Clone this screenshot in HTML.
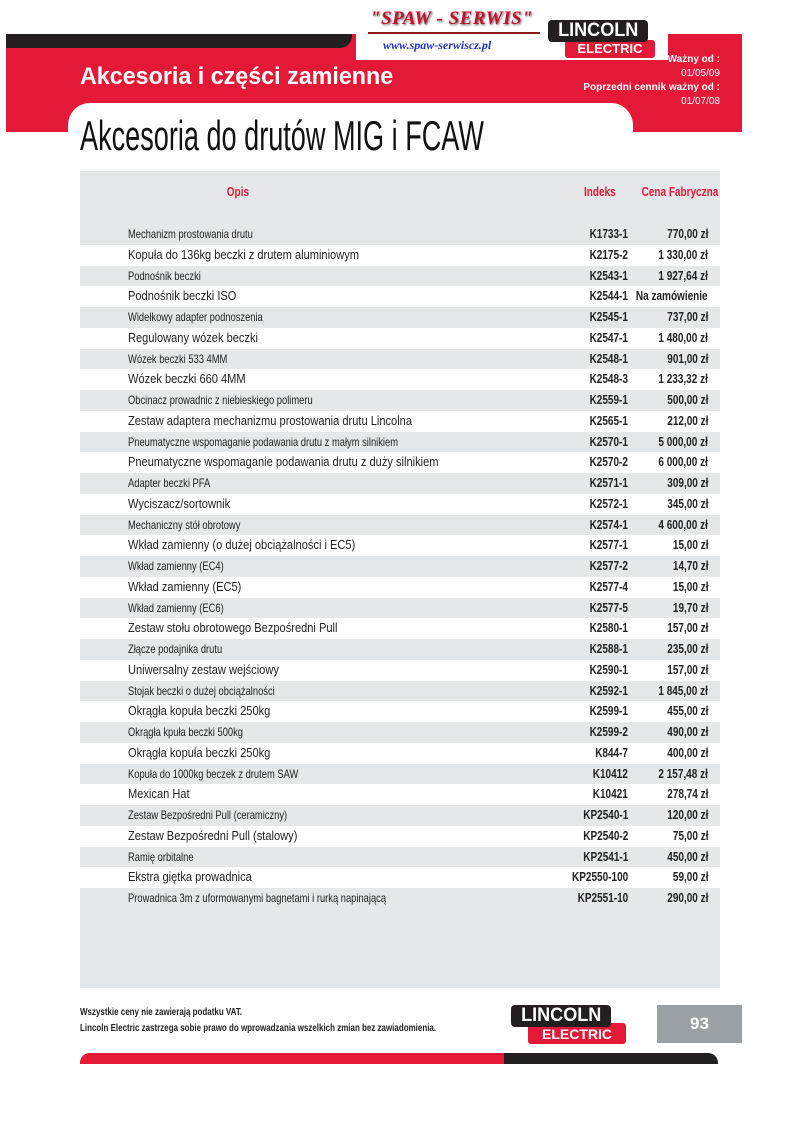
<!DOCTYPE html>
<html><head><meta charset="utf-8"><style>
*{margin:0;padding:0;box-sizing:border-box}
body{width:800px;height:1131px;background:#fff;position:relative;font-family:"Liberation Sans",sans-serif;overflow:hidden}
.a{position:absolute}
.c{display:inline-block;transform-origin:0 50%;transform:scaleX(.78);white-space:nowrap}
.cr{display:inline-block;transform-origin:100% 50%;transform:scaleX(.8);white-space:nowrap}
.row{position:absolute;left:80px;width:640px;height:20.75px}
.row.w{background:#fff}
.d{position:absolute;left:48px;top:3px;color:#222;white-space:nowrap}
.row .d.s{font-size:12px}
.row.w .d{font-size:12.6px;top:3px;transform-origin:0 50%;transform:scaleX(.88)}
.k{position:absolute;right:92px;top:3px;font-size:12.5px;font-weight:bold;color:#222}
.p{position:absolute;right:12px;top:3px;font-size:12.5px;font-weight:bold;color:#222}
</style></head><body>
<div class="a" style="left:6px;top:34px;width:736px;height:98px;background:#e31937"></div>
<div class="a" style="left:6px;top:34px;width:346px;height:14px;background:#231f20;border-bottom-right-radius:12px"></div>
<div class="a" style="left:356px;top:0;width:312px;height:60px;background:#fff"></div>
<div class="a" style="left:370px;top:8px;font-family:'Liberation Serif',serif;font-weight:bold;font-style:italic;font-size:19px;color:#c8102e;text-shadow:1px 1px 2px #555;letter-spacing:0.5px">"SPAW - SERWIS"</div>
<div class="a" style="left:368px;top:32px;width:172px;height:2px;background:#8b1a1a"></div>
<div class="a" style="left:383px;top:38px;font-family:'Liberation Serif',serif;font-weight:bold;font-style:italic;font-size:12px;color:#2233bb">www.spaw-serwiscz.pl</div>
<div class="a" style="left:565px;top:40px;width:90px;height:18px;background:#e31937;border-radius:3px"></div>
<div class="a" style="left:548px;top:20px;width:100px;height:22px;background:#231f20;border-radius:4px;color:#fff;font-weight:bold;font-size:19px;text-align:center;line-height:22px"><span class="c" style="transform:scaleX(.95);transform-origin:50% 50%">LINCOLN</span></div>
<div class="a" style="left:565px;top:42px;width:90px;text-align:center;color:#fff;font-weight:bold;font-size:13px;line-height:14px">ELECTRIC</div>
<div class="a" style="left:580px;top:53px;width:140px;text-align:right;color:#fff;font-weight:bold;font-size:10px;line-height:14px">Ważny od :<br><span style="font-weight:normal">01/05/09</span><br>Poprzedni cennik ważny od :<br><span style="font-weight:normal">01/07/08</span></div>
<div class="a" style="left:80px;top:63px;color:#fff;font-weight:bold;font-size:24px"><span class="c" style="transform:scaleX(.97)">Akcesoria i części zamienne</span></div>
<div class="a" style="left:68px;top:103px;width:565px;height:30px;background:#fff;border-radius:22px 22px 0 0"></div>
<div class="a" style="left:80px;top:112px;color:#111;font-size:42px;line-height:48px"><span class="c" style="transform:scaleX(.645)">Akcesoria do drutów MIG i FCAW</span></div>
<div class="a" style="left:80px;top:171px;width:640px;height:817px;background:#e6e7e9"></div>
<div class="a" style="left:80px;top:185px;width:315px;text-align:center;color:#e31937;font-weight:bold;font-size:12.5px"><span class="c" style="transform-origin:50% 50%;transform:scaleX(.8)">Opis</span></div>
<div class="a" style="left:575px;top:185px;width:50px;text-align:center;color:#e31937;font-weight:bold;font-size:12.5px"><span class="c" style="transform-origin:50% 50%;transform:scaleX(.8)">Indeks</span></div>
<div class="a" style="left:630px;top:185px;width:100px;text-align:center;color:#e31937;font-weight:bold;font-size:12.5px"><span class="c" style="transform-origin:50% 50%;transform:scaleX(.8)">Cena Fabryczna</span></div>

<div class="row" style="top:224px"><div class="d s"><span class="c">Mechanizm prostowania drutu</span></div><div class="k"><span class="cr">K1733-1</span></div><div class="p"><span class="cr">770,00 zł</span></div></div>
<div class="row w" style="top:244.75px"><div class="d">Kopuła do 136kg beczki z drutem aluminiowym</div><div class="k"><span class="cr">K2175-2</span></div><div class="p"><span class="cr">1 330,00 zł</span></div></div>
<div class="row" style="top:265.5px"><div class="d s"><span class="c">Podnośnik beczki</span></div><div class="k"><span class="cr">K2543-1</span></div><div class="p"><span class="cr">1 927,64 zł</span></div></div>
<div class="row w" style="top:286.25px"><div class="d">Podnośnik beczki ISO</div><div class="k"><span class="cr">K2544-1</span></div><div class="p"><span class="cr">Na zamówienie</span></div></div>
<div class="row" style="top:307px"><div class="d s"><span class="c">Widełkowy adapter podnoszenia</span></div><div class="k"><span class="cr">K2545-1</span></div><div class="p"><span class="cr">737,00 zł</span></div></div>
<div class="row w" style="top:327.75px"><div class="d">Regulowany wózek beczki</div><div class="k"><span class="cr">K2547-1</span></div><div class="p"><span class="cr">1 480,00 zł</span></div></div>
<div class="row" style="top:348.5px"><div class="d s"><span class="c">Wózek beczki 533 4MM</span></div><div class="k"><span class="cr">K2548-1</span></div><div class="p"><span class="cr">901,00 zł</span></div></div>
<div class="row w" style="top:369.25px"><div class="d">Wózek beczki 660 4MM</div><div class="k"><span class="cr">K2548-3</span></div><div class="p"><span class="cr">1 233,32 zł</span></div></div>
<div class="row" style="top:390px"><div class="d s"><span class="c">Obcinacz prowadnic z niebieskiego polimeru</span></div><div class="k"><span class="cr">K2559-1</span></div><div class="p"><span class="cr">500,00 zł</span></div></div>
<div class="row w" style="top:410.75px"><div class="d">Zestaw adaptera mechanizmu prostowania drutu Lincolna</div><div class="k"><span class="cr">K2565-1</span></div><div class="p"><span class="cr">212,00 zł</span></div></div>
<div class="row" style="top:431.5px"><div class="d s"><span class="c">Pneumatyczne wspomaganie podawania drutu z małym silnikiem</span></div><div class="k"><span class="cr">K2570-1</span></div><div class="p"><span class="cr">5 000,00 zł</span></div></div>
<div class="row w" style="top:452.25px"><div class="d">Pneumatyczne wspomaganie podawania drutu z duży silnikiem</div><div class="k"><span class="cr">K2570-2</span></div><div class="p"><span class="cr">6 000,00 zł</span></div></div>
<div class="row" style="top:473px"><div class="d s"><span class="c">Adapter beczki PFA</span></div><div class="k"><span class="cr">K2571-1</span></div><div class="p"><span class="cr">309,00 zł</span></div></div>
<div class="row w" style="top:493.75px"><div class="d">Wyciszacz/sortownik</div><div class="k"><span class="cr">K2572-1</span></div><div class="p"><span class="cr">345,00 zł</span></div></div>
<div class="row" style="top:514.5px"><div class="d s"><span class="c">Mechaniczny stół obrotowy</span></div><div class="k"><span class="cr">K2574-1</span></div><div class="p"><span class="cr">4 600,00 zł</span></div></div>
<div class="row w" style="top:535.25px"><div class="d">Wkład zamienny (o dużej obciążalności i EC5)</div><div class="k"><span class="cr">K2577-1</span></div><div class="p"><span class="cr">15,00 zł</span></div></div>
<div class="row" style="top:556px"><div class="d s"><span class="c">Wkład zamienny (EC4)</span></div><div class="k"><span class="cr">K2577-2</span></div><div class="p"><span class="cr">14,70 zł</span></div></div>
<div class="row w" style="top:576.75px"><div class="d">Wkład zamienny (EC5)</div><div class="k"><span class="cr">K2577-4</span></div><div class="p"><span class="cr">15,00 zł</span></div></div>
<div class="row" style="top:597.5px"><div class="d s"><span class="c">Wkład zamienny (EC6)</span></div><div class="k"><span class="cr">K2577-5</span></div><div class="p"><span class="cr">19,70 zł</span></div></div>
<div class="row w" style="top:618.25px"><div class="d">Zestaw stołu obrotowego Bezpośredni Pull</div><div class="k"><span class="cr">K2580-1</span></div><div class="p"><span class="cr">157,00 zł</span></div></div>
<div class="row" style="top:639px"><div class="d s"><span class="c">Złącze podajnika drutu</span></div><div class="k"><span class="cr">K2588-1</span></div><div class="p"><span class="cr">235,00 zł</span></div></div>
<div class="row w" style="top:659.75px"><div class="d">Uniwersalny zestaw wejściowy</div><div class="k"><span class="cr">K2590-1</span></div><div class="p"><span class="cr">157,00 zł</span></div></div>
<div class="row" style="top:680.5px"><div class="d s"><span class="c">Stojak beczki o dużej obciążalności</span></div><div class="k"><span class="cr">K2592-1</span></div><div class="p"><span class="cr">1 845,00 zł</span></div></div>
<div class="row w" style="top:701.25px"><div class="d">Okrągła kopuła beczki 250kg</div><div class="k"><span class="cr">K2599-1</span></div><div class="p"><span class="cr">455,00 zł</span></div></div>
<div class="row" style="top:722px"><div class="d s"><span class="c">Okrągła kpuła beczki 500kg</span></div><div class="k"><span class="cr">K2599-2</span></div><div class="p"><span class="cr">490,00 zł</span></div></div>
<div class="row w" style="top:742.75px"><div class="d">Okrągła kopuła beczki 250kg</div><div class="k"><span class="cr">K844-7</span></div><div class="p"><span class="cr">400,00 zł</span></div></div>
<div class="row" style="top:763.5px"><div class="d s"><span class="c">Kopuła do 1000kg beczek z drutem SAW</span></div><div class="k"><span class="cr">K10412</span></div><div class="p"><span class="cr">2 157,48 zł</span></div></div>
<div class="row w" style="top:784.25px"><div class="d">Mexican Hat</div><div class="k"><span class="cr">K10421</span></div><div class="p"><span class="cr">278,74 zł</span></div></div>
<div class="row" style="top:805px"><div class="d s"><span class="c">Zestaw Bezpośredni Pull (ceramiczny)</span></div><div class="k"><span class="cr">KP2540-1</span></div><div class="p"><span class="cr">120,00 zł</span></div></div>
<div class="row w" style="top:825.75px"><div class="d">Zestaw Bezpośredni Pull (stalowy)</div><div class="k"><span class="cr">KP2540-2</span></div><div class="p"><span class="cr">75,00 zł</span></div></div>
<div class="row" style="top:846.5px"><div class="d s"><span class="c">Ramię orbitalne</span></div><div class="k"><span class="cr">KP2541-1</span></div><div class="p"><span class="cr">450,00 zł</span></div></div>
<div class="row w" style="top:867.25px"><div class="d">Ekstra giętka prowadnica</div><div class="k"><span class="cr">KP2550-100</span></div><div class="p"><span class="cr">59,00 zł</span></div></div>
<div class="row" style="top:888px"><div class="d s"><span class="c">Prowadnica 3m z uformowanymi bagnetami i rurką napinającą</span></div><div class="k"><span class="cr">KP2551-10</span></div><div class="p"><span class="cr">290,00 zł</span></div></div>

<div class="a" style="left:80px;top:1004px;font-size:10.5px;font-weight:bold;color:#222;line-height:16px"><span class="c" style="transform:scaleX(.76)">Wszystkie ceny nie zawierają podatku VAT.<br>Lincoln Electric zastrzega sobie prawo do wprowadzania wszelkich zmian bez zawiadomienia.</span></div>
<div class="a" style="left:528px;top:1023px;width:98px;height:21px;background:#e31937;border-radius:3px;color:#fff;font-weight:bold;font-size:14px;text-align:center;line-height:23px">ELECTRIC</div>
<div class="a" style="left:511px;top:1005px;width:100px;height:22px;background:#231f20;border-radius:4px;color:#fff;font-weight:bold;font-size:19px;text-align:center;line-height:22px"><span class="c" style="transform:scaleX(.95);transform-origin:50% 50%">LINCOLN</span></div>
<div class="a" style="left:657px;top:1005px;width:85px;height:38px;background:#9aa0a3;color:#fff;font-weight:bold;font-size:17px;text-align:center;line-height:38px">93</div>
<div class="a" style="left:80px;top:1053px;width:638px;height:11px;background:#231f20;border-radius:10px 10px 0 0"></div>
<div class="a" style="left:80px;top:1053px;width:424px;height:11px;background:#e31937;border-radius:10px 0 0 0"></div>
</body></html>
